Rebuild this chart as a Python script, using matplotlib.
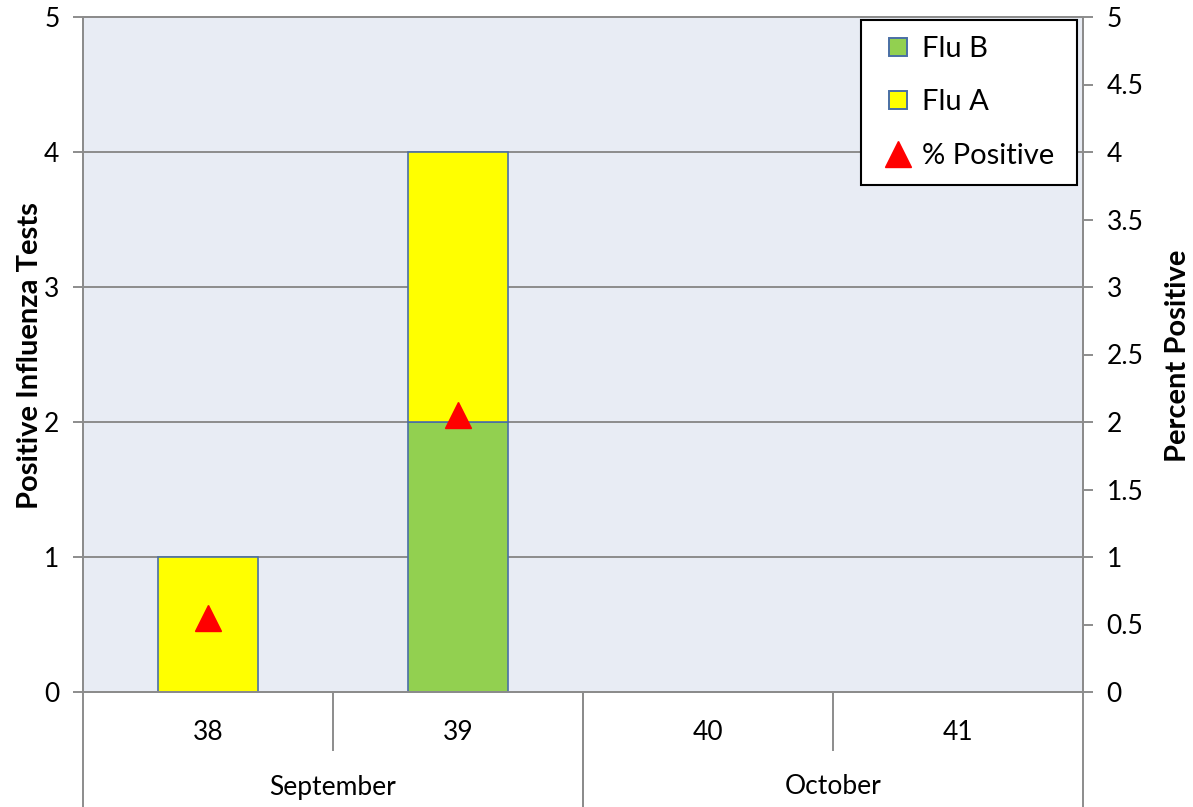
import numpy as np
import matplotlib.pyplot as plt
import matplotlib.transforms as mtransforms
from matplotlib.lines import Line2D

plt.rcParams['font.family'] = ['Lato', 'DejaVu Sans']

weeks = ['38', '39', '40', '41']
months = ['September', 'October']
month_spans = [(0, 2), (2, 4)]  # week index ranges
flu_b = [0, 2, 0, 0]
flu_a = [1, 2, 0, 0]
pct_positive = [0.55, 2.05, np.nan, np.nan]

grey = '#8C8C8C'
edge = '#4A6FA5'
green = '#92D050'
yellow = '#FFFF00'
red = '#FF0000'
fs = 19

fig = plt.figure(figsize=(11.93, 8.07), dpi=100)
W, H = 1193, 807
ax = fig.add_axes([83 / W, (H - 692) / H, 1000 / W, 675 / H])
ax.set_facecolor('#E8ECF4')

x = np.arange(len(weeks))
ax.bar(x, flu_b, width=0.4, color=green, edgecolor=edge, linewidth=1.2, zorder=3)
ax.bar(x, flu_a, width=0.4, bottom=flu_b, color=yellow, edgecolor=edge,
       linewidth=1.2, zorder=3)

ax.set_xlim(-0.5, len(weeks) - 0.5)
ax.set_ylim(0, 5)
ax.set_yticks(range(0, 6))
ax.yaxis.grid(True, color=grey, linewidth=1.4, zorder=1)
ax.set_axisbelow(True)
ax.set_xticks([])
for s in ax.spines.values():
    s.set_color(grey)
    s.set_linewidth(1.4)
ax.tick_params(axis='y', direction='out', length=7, width=1.4, color=grey,
               labelsize=fs, pad=10)

ax2 = ax.twinx()
ax2.set_ylim(0, 5)
ax2.set_yticks(np.arange(0, 5.01, 0.5))
ax2.set_yticklabels(['0', '0.5', '1', '1.5', '2', '2.5', '3', '3.5', '4', '4.5', '5'])
ax2.tick_params(axis='y', direction='out', length=7, width=1.4, color=grey,
                labelsize=fs, pad=10)
for s in ax2.spines.values():
    s.set_color(grey)
    s.set_linewidth(1.4)
ax2.plot(x, pct_positive, linestyle='none', marker='^', markersize=19,
         color=red, zorder=5)

# axis titles placed by centre
fig.text(30 / W, 1 - 356 / H, 'Positive Influenza Tests', rotation=90,
         ha='center', va='center', fontsize=21, fontweight='bold')
fig.text(1178 / W, 1 - 356 / H, 'Percent Positive', rotation=90,
         ha='center', va='center', fontsize=21, fontweight='bold')

# two-level category axis
trans = mtransforms.blended_transform_factory(ax.transData, ax.transAxes)
wk_y = -40 / 675
mo_y = -95 / 675
for i, w in enumerate(weeks):
    ax.text(i, wk_y, w, transform=trans, ha='center', va='center', fontsize=fs)
for i in range(1, len(weeks)):
    ax.add_line(Line2D([i - 0.5, i - 0.5], [0, -58 / 675], transform=trans,
                       color=grey, lw=1.4, clip_on=False))
for (a, b), m in zip(month_spans, months):
    ax.text((a + b - 1) / 2, mo_y, m, transform=trans, ha='center', va='center',
            fontsize=fs)
    for edge_x in (a - 0.5, b - 0.5):
        ax.add_line(Line2D([edge_x, edge_x], [0, -120 / 675], transform=trans,
                           color=grey, lw=1.4, clip_on=False))

handles = [
    Line2D([], [], linestyle='none', marker='s', markersize=13,
           markerfacecolor=green, markeredgecolor=edge, markeredgewidth=1.4),
    Line2D([], [], linestyle='none', marker='s', markersize=13,
           markerfacecolor=yellow, markeredgecolor=edge, markeredgewidth=1.4),
    Line2D([], [], linestyle='none', marker='^', markersize=19, color=red),
]
leg = ax2.legend(handles, ['Flu B', 'Flu A', '% Positive'], loc='upper right',
                 mode='expand', fontsize=21, frameon=True, fancybox=False,
                 edgecolor='black', framealpha=1, borderpad=0.55,
                 labelspacing=0.95, handlelength=1.45, handletextpad=0.1,
                 borderaxespad=0, bbox_to_anchor=(0.778, 0, 0.216, 0.996))
leg.get_frame().set_linewidth(1.5)

fig.savefig('out.png', dpi=100)
